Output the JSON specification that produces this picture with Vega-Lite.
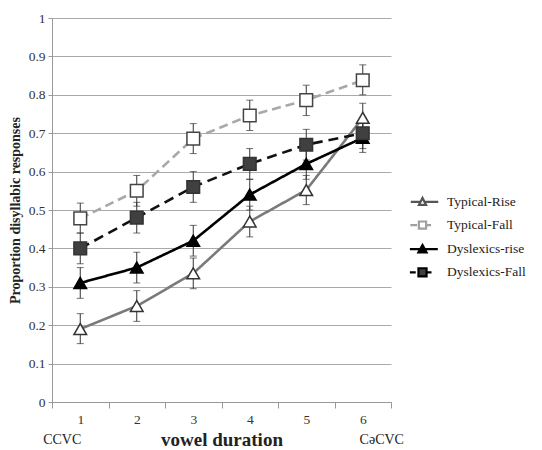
{
  "$schema": "https://vega.github.io/schema/vega-lite/v6.json",
  "width": 339,
  "height": 384,
  "autosize": {"type": "none"},
  "padding": {"left": 52, "top": 18, "right": 151, "bottom": 48},
  "background": "white",
  "config": {
    "view": {"stroke": null},
    "font": "Liberation Serif",
    "axis": {
      "labelFont": "Liberation Serif",
      "titleFont": "Liberation Serif",
      "labelColor": "#333",
      "titleColor": "#222",
      "domainColor": "#999",
      "tickColor": "#999",
      "gridColor": "#aaaaaa",
      "gridWidth": 1
    },
    "axisY": {
      "tickCount": 10,
      "format": "~g",
      "labelOverlap": false,
      "labelFontSize": 13.5,
      "tickSize": 4,
      "labelPadding": 3,
      "titleFontSize": 14,
      "titleFontWeight": "bold",
      "titlePadding": 6,
      "grid": true
    },
    "legend": {
      "labelFont": "Liberation Serif",
      "labelFontSize": 13,
      "labelColor": "#222"
    }
  },
  "datasets": {
    "main": [
      {"series": "Typical-Rise", "d": 1, "v": 0.19, "lo": 0.152, "hi": 0.23},
      {"series": "Typical-Rise", "d": 2, "v": 0.25, "lo": 0.21, "hi": 0.29},
      {"series": "Typical-Rise", "d": 3, "v": 0.335, "lo": 0.295, "hi": 0.375},
      {"series": "Typical-Rise", "d": 4, "v": 0.47, "lo": 0.43, "hi": 0.51},
      {"series": "Typical-Rise", "d": 5, "v": 0.552, "lo": 0.514, "hi": 0.59},
      {"series": "Typical-Rise", "d": 6, "v": 0.74, "lo": 0.70, "hi": 0.778},
      {"series": "Typical-Fall", "d": 1, "v": 0.478, "lo": 0.44, "hi": 0.518},
      {"series": "Typical-Fall", "d": 2, "v": 0.55, "lo": 0.51, "hi": 0.59},
      {"series": "Typical-Fall", "d": 3, "v": 0.686, "lo": 0.647, "hi": 0.725},
      {"series": "Typical-Fall", "d": 4, "v": 0.746, "lo": 0.707, "hi": 0.786},
      {"series": "Typical-Fall", "d": 5, "v": 0.786, "lo": 0.746, "hi": 0.825},
      {"series": "Typical-Fall", "d": 6, "v": 0.838, "lo": 0.80, "hi": 0.878},
      {"series": "Dyslexics-rise", "d": 1, "v": 0.31, "lo": 0.27, "hi": 0.35},
      {"series": "Dyslexics-rise", "d": 2, "v": 0.35, "lo": 0.31, "hi": 0.39},
      {"series": "Dyslexics-rise", "d": 3, "v": 0.42, "lo": 0.38, "hi": 0.46},
      {"series": "Dyslexics-rise", "d": 4, "v": 0.54, "lo": 0.50, "hi": 0.58},
      {"series": "Dyslexics-rise", "d": 5, "v": 0.62, "lo": 0.58, "hi": 0.66},
      {"series": "Dyslexics-rise", "d": 6, "v": 0.688, "lo": 0.65, "hi": 0.728},
      {"series": "Dyslexics-Fall", "d": 1, "v": 0.40, "lo": 0.36, "hi": 0.44},
      {"series": "Dyslexics-Fall", "d": 2, "v": 0.48, "lo": 0.44, "hi": 0.52},
      {"series": "Dyslexics-Fall", "d": 3, "v": 0.56, "lo": 0.52, "hi": 0.60},
      {"series": "Dyslexics-Fall", "d": 4, "v": 0.62, "lo": 0.58, "hi": 0.66},
      {"series": "Dyslexics-Fall", "d": 5, "v": 0.67, "lo": 0.63, "hi": 0.71},
      {"series": "Dyslexics-Fall", "d": 6, "v": 0.70, "lo": 0.66, "hi": 0.74}
    ]
  },
  "data": {"name": "main"},
  "encoding": {
    "x": {
      "field": "d",
      "type": "ordinal",
      "bandPosition": 0.5,
      "scale": {"type": "band", "paddingInner": 0, "paddingOuter": 0},
      "axis": {
        "title": "vowel duration",
        "titleFontSize": 19,
        "titleFontWeight": "bold",
        "titlePadding": 5,
        "labelAngle": 0,
        "labelFontSize": 13.5,
        "labelPadding": 4,
        "tickSize": 6,
        "tickBand": "extent",
        "grid": false
      }
    }
  },
  "layer": [
    {
      "mark": {"type": "rule", "color": "#333", "strokeWidth": 1},
      "encoding": {
        "y": {"field": "lo", "type": "quantitative", "scale": {"domain": [0, 1]}, "title": "Proportion disyllabic responses"},
        "y2": {"field": "hi"}
      }
    },
    {
      "mark": {"type": "tick", "color": "#333", "size": 7, "thickness": 1, "orient": "horizontal"},
      "encoding": {
        "y": {"field": "lo", "type": "quantitative", "scale": {"domain": [0, 1]}, "title": "Proportion disyllabic responses"}
      }
    },
    {
      "mark": {"type": "tick", "color": "#333", "size": 7, "thickness": 1, "orient": "horizontal"},
      "encoding": {
        "y": {"field": "hi", "type": "quantitative", "scale": {"domain": [0, 1]}, "title": "Proportion disyllabic responses"}
      }
    },
    {
      "mark": {"type": "line", "strokeWidth": 2.6},
      "encoding": {
        "y": {"field": "v", "type": "quantitative", "scale": {"domain": [0, 1]}, "title": "Proportion disyllabic responses"},
        "detail": {"field": "series"},
        "stroke": {
          "field": "series", "type": "nominal", "legend": null,
          "scale": {"domain": ["Typical-Rise", "Typical-Fall", "Dyslexics-rise", "Dyslexics-Fall"], "range": ["#7a7a7a", "#a8a8a8", "#000000", "#111111"]}
        },
        "strokeDash": {
          "field": "series", "type": "nominal", "legend": null,
          "scale": {"domain": ["Typical-Rise", "Typical-Fall", "Dyslexics-rise", "Dyslexics-Fall"], "range": [[1, 0], [9, 5], [1, 0], [10, 6]]}
        }
      }
    },
    {
      "mark": {"type": "point", "filled": false, "size": 160, "strokeWidth": 1.5, "opacity": 1},
      "encoding": {
        "y": {"field": "v", "type": "quantitative", "scale": {"domain": [0, 1]}, "title": "Proportion disyllabic responses"},
        "shape": {
          "field": "series", "type": "nominal", "legend": null,
          "scale": {"domain": ["Typical-Rise", "Typical-Fall", "Dyslexics-rise", "Dyslexics-Fall"], "range": ["triangle-up", "square", "triangle-up", "square"]}
        },
        "fill": {
          "field": "series", "type": "nominal", "legend": null,
          "scale": {"domain": ["Typical-Rise", "Typical-Fall", "Dyslexics-rise", "Dyslexics-Fall"], "range": ["#ffffff", "#ffffff", "#000000", "#404040"]}
        },
        "stroke": {
          "field": "series", "type": "nominal", "legend": null,
          "scale": {"domain": ["Typical-Rise", "Typical-Fall", "Dyslexics-rise", "Dyslexics-Fall"], "range": ["#333333", "#444444", "#000000", "#333333"]}
        }
      }
    },
    {
      "mark": {"type": "point", "filled": false, "size": 0, "strokeWidth": 2.2},
      "encoding": {
        "y": {"field": "v", "type": "quantitative", "scale": {"domain": [0, 1]}, "title": "Proportion disyllabic responses"},
        "shape": {
          "field": "series", "type": "nominal",
          "scale": {
            "domain": ["Typical-Rise", "Typical-Fall", "Dyslexics-rise", "Dyslexics-Fall"],
            "range": [
              "M-1.3,0.05L-0.22,0.05M0.22,0.05L1.75,0.05M-0.4,0.38L0,-0.4L0.4,0.38Z",
              "M-1.35,0L-0.6,0M0.4,0L0.95,0M-0.4,-0.4L0.4,-0.4L0.4,0.4L-0.4,0.4Z",
              "M-1.4,0.05L1.7,0.05M-0.45,0.4L0,-0.42L0.45,0.4Z",
              "M-1.4,0L-0.75,0M0.45,0L1.0,0M-0.45,-0.45L0.45,-0.45L0.45,0.45L-0.45,0.45Z"
            ]
          },
          "legend": {
            "title": null,
            "orient": "none",
            "legendX": 360,
            "legendY": 173,
            "symbolSize": 324,
            "labelOffset": 14,
            "rowPadding": 4.6,
            "padding": 0,
            "labelFont": "Liberation Serif",
            "labelFontSize": 13.5,
            "symbolStrokeWidth": 2.2,
            "symbolOpacity": 1
          }
        },
        "fill": {
          "field": "series", "type": "nominal",
          "scale": {"domain": ["Typical-Rise", "Typical-Fall", "Dyslexics-rise", "Dyslexics-Fall"], "range": ["#ffffff", "#ffffff", "#000000", "#404040"]}
        },
        "stroke": {
          "field": "series", "type": "nominal",
          "scale": {"domain": ["Typical-Rise", "Typical-Fall", "Dyslexics-rise", "Dyslexics-Fall"], "range": ["#555555", "#a0a0a0", "#000000", "#000000"]}
        }
      }
    },
    {
      "data": {"values": [{"d": 1, "t": "CCVC"}]},
      "mark": {"type": "text", "fontSize": 14, "font": "Liberation Serif", "color": "#222", "dx": -18, "baseline": "middle"},
      "encoding": {
        "y": {"datum": -0.1, "type": "quantitative", "scale": {"domain": [0, 1]}, "title": "Proportion disyllabic responses"},
        "text": {"field": "t"}
      }
    },
    {
      "data": {"values": [{"d": 6, "t": "CəCVC"}]},
      "mark": {"type": "text", "fontSize": 14, "font": "Liberation Serif", "color": "#222", "dx": 19, "baseline": "middle"},
      "encoding": {
        "y": {"datum": -0.1, "type": "quantitative", "scale": {"domain": [0, 1]}, "title": "Proportion disyllabic responses"},
        "text": {"field": "t"}
      }
    }
  ],
  "resolve": {"scale": {"shape": "independent", "fill": "independent", "stroke": "independent", "strokeDash": "independent"}}
}
